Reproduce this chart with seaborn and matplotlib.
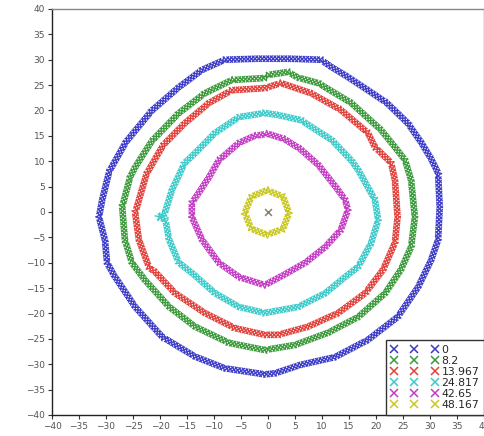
import numpy as np
import pandas as pd
import matplotlib
matplotlib.use("Agg")
import matplotlib.pyplot as plt
import matplotlib.patheffects as pe
from matplotlib.lines import Line2D
import seaborn as sns

# legend labels (times) and their colours
times = ["0", "8.2", "13.967", "24.817", "42.65", "48.167"]
colors = ["#3b3bc8", "#3a9a3a", "#e2403a", "#3ccaca", "#c43cc4", "#c8c820"]

# front outlines, going round counter-clockwise
ring_0_x = [31.8, 31.5, 30.2, 28.5, 25.9, 22.0, 18.5, 14.5, 11.7, 9.8, 4.0, -2.0, -8.0,
            -12.2, -16.5, -21.5, -26.3, -29.4, -30.7, -31.3, -30.2, -29.8, -28.5, -24.6,
            -19.6, -13.5, -8.0, -0.6, 1.2, 6.1, 12.4, 18.5, 24.0, 27.8, 30.2, 31.5]
ring_0_y = [1.0, 7.7, 10.5, 13.5, 17.5, 21.5, 24.0, 26.8, 28.6, 30.0, 30.2, 30.2, 30.0,
            28.0, 24.6, 20.0, 13.8, 8.0, 2.4, -1.0, -5.5, -10.0, -12.5, -18.7,
            -24.6, -28.5, -30.8, -32.0, -31.8, -30.1, -28.6, -25.2, -20.7, -14.8, -9.5, -5.5]

ring_1_x = [27.2, 26.5, 25.4, 23.5, 20.9, 15.4, 9.3, 5.5, 3.7, 0.0, -0.6, -6.7, -11.7,
            -16.5, -21.5, -24.5, -25.5, -27.0, -26.5, -25.2, -22.8, -18.3, -13.5, -7.2,
            -0.6, 5.0, 11.1, 16.7, 21.7, 24.6, 26.5]
ring_1_y = [-1.0, 6.3, 10.2, 12.8, 16.2, 21.5, 25.4, 26.5, 27.6, 27.0, 26.4, 26.0, 23.4,
            19.5, 14.0, 9.0, 7.0, 1.0, -5.5, -10.0, -13.4, -18.7, -22.6, -25.8,
            -27.2, -26.2, -23.8, -20.7, -16.0, -11.4, -6.9]

ring_2_x = [24.0, 23.5, 22.8, 19.8, 18.5, 13.5, 8.0, 2.4, -0.6, -6.7, -10.9, -15.4,
            -19.4, -22.5, -24.6, -23.9, -22.0, -20.9, -17.2, -11.7, -6.1, -0.6, 1.9,
            7.4, 13.0, 18.0, 21.3, 23.5]
ring_2_y = [-1.0, 6.3, 9.7, 12.8, 15.6, 20.1, 23.4, 25.4, 24.4, 24.0, 21.5, 17.5,
            13.2, 7.5, -0.2, -5.5, -11.0, -11.8, -16.0, -19.9, -22.9, -24.2, -24.2,
            -22.6, -19.9, -16.0, -11.4, -6.1]

ring_3_x = [20.4, 19.8, 16.7, 15.4, 11.8, 6.1, 1.9, -0.6, -5.4, -9.8, -13.5, -15.4,
            -17.8, -19.1, -20.3, -19.0, -18.3, -16.5, -14.1, -9.8, -5.4, -0.6, 5.6,
            10.6, 14.3, 16.7, 19.1]
ring_3_y = [-1.6, 2.4, 8.3, 10.2, 14.2, 18.1, 19.1, 19.5, 18.7, 15.6, 11.6, 9.7,
            4.3, -0.2, -1.0, -1.5, -5.5, -10.0, -12.0, -16.0, -18.7, -19.9, -18.7,
            -16.0, -12.8, -10.8, -6.1]

ring_4_x = [14.8, 14.3, 12.5, 9.3, 6.0, 3.0, 0.0, -2.5, -5.4, -9.1, -10.9, -12.5,
            -14.1, -14.1, -12.2, -9.1, -5.4, -0.6, 3.1, 6.9, 10.6, 13.5]
ring_4_y = [0.4, 2.4, 5.0, 9.3, 12.4, 14.4, 15.4, 15.0, 13.6, 10.2, 6.9, 4.3,
            1.8, -1.0, -5.5, -10.0, -12.8, -14.4, -12.3, -10.0, -6.9, -3.5]

ring_5_x = [3.9, 2.8, -0.2, -3.1, -4.3, -3.1, -0.2, 2.8]
ring_5_y = [-0.2, 3.0, 4.3, 3.0, -0.2, -3.3, -4.5, -3.3]

centre_x = [0.0]
centre_y = [0.0]

rings_x = [ring_0_x, ring_1_x, ring_2_x, ring_3_x, ring_4_x, ring_5_x]
rings_y = [ring_0_y, ring_1_y, ring_2_y, ring_3_y, ring_4_y, ring_5_y]

frames = []
for t, xs, ys in zip(times, rings_x, rings_y):
    # close each outline by going back to its first point
    frames.append(pd.DataFrame({"x": list(xs) + [xs[0]], "y": list(ys) + [ys[0]], "t": t}))
df = pd.concat(frames, ignore_index=True)

sns.set_theme(style="ticks")
plt.rcParams["font.family"] = ["DejaVu Sans"]

fig = plt.figure(figsize=(4.85, 4.36), dpi=100)
ax = fig.add_axes([0.1072, 0.0482, 0.8907, 0.9312])

# stamp a row of small "x" marks along every outline
stamp = [pe.TickedStroke(spacing=2.6, angle=a, length=1.1) for a in (45, 135, -45, -135)]
sns.lineplot(data=df, x="x", y="y", hue="t", hue_order=times, palette=colors,
             sort=False, estimator=None, legend=False, lw=1.0,
             path_effects=stamp, ax=ax)
ax.scatter(centre_x, centre_y, marker="x", s=24, color="#8a8070", linewidths=1.1, zorder=3)

ax.set_xlim(-40, 40)
ax.set_ylim(-40, 40)
ax.set_xticks(range(-40, 41, 5))
ax.set_yticks(range(-40, 41, 5))
ax.set_xlabel("")
ax.set_ylabel("")
ax.tick_params(direction="out", length=3, width=0.8, color="#333333",
               labelsize=6.5, labelcolor="#555555", pad=2)
for side in ["left", "bottom"]:
    ax.spines[side].set_color("#222222")
    ax.spines[side].set_linewidth(1.0)
for side in ["top", "right"]:
    ax.spines[side].set_color("#888888")
    ax.spines[side].set_linewidth(1.0)

handles = [Line2D([], [], ls="none", marker="x", color=c, markersize=6, mew=1.1) for c in colors]
leg = ax.legend(handles, times, loc="lower right", numpoints=3, fontsize=7.8,
                handlelength=4.4, handletextpad=0.3, labelspacing=0.1,
                borderaxespad=0.0, borderpad=0.45, fancybox=False, framealpha=1,
                edgecolor="#333333")
leg.get_frame().set_linewidth(1.0)

fig.savefig("out.png", dpi=100)
